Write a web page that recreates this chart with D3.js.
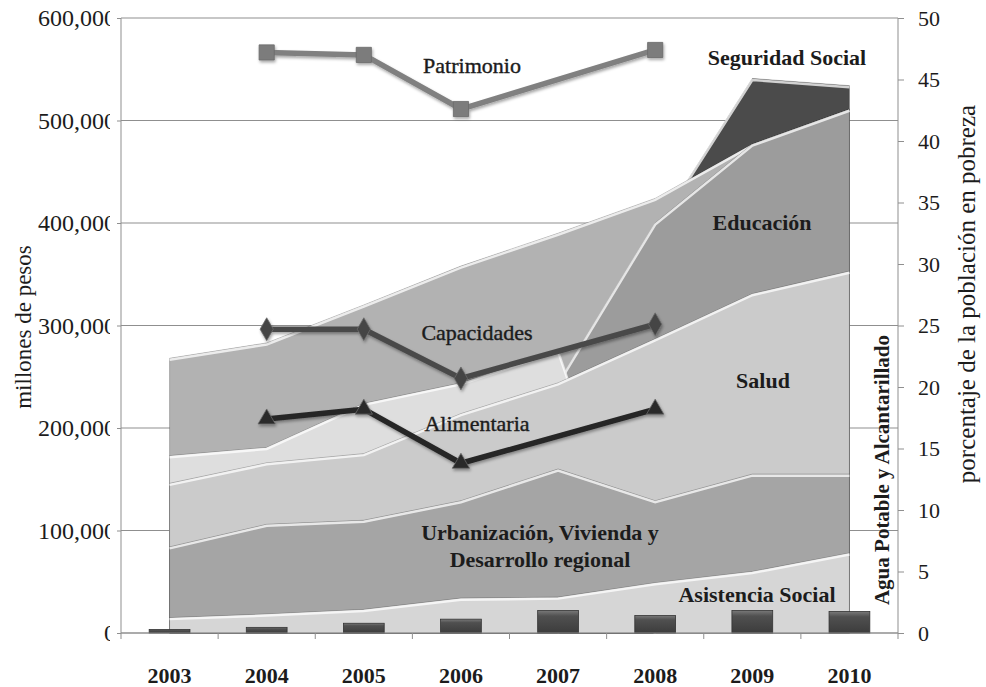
<!DOCTYPE html>
<meta charset="utf-8"/>
<style>
  body { margin: 0; background: #fff; }
  text { font-family: "Liberation Serif", "Times New Roman", serif; fill: #1c1c1c; }
  .grid line { stroke: #8f8f8f; stroke-width: 1; }
  .axis path, .axis line { stroke: #8f8f8f; }
  .axis text { font-size: 24px; }
</style>
<body>
<svg width="986" height="687"></svg>
</body>
<script src="https://d3js.org/d3.v7.min.js"></script>
<script>

  var years = ["2003", "2004", "2005", "2006", "2007", "2008", "2009", "2010"]

  // millones de pesos
  var seguridadSocial = [0, 0, 0, 0, 0, 392000, 541000, 534000]
  var gastoSuperior = [268000, 283000, 320000, 358000, 390000, 424000, 477000, 511000]
  var educacion = [146000, 166000, 175000, 214000, 244000, 400000, 477000, 511000]
  var franjaClara = [173000, 181000, 224000, 244000, 276000, 0, 0, 0]
  var salud = [146000, 166000, 175000, 214000, 244000, 287000, 331000, 353000]
  var urbanizacion = [84000, 106000, 110000, 129000, 160000, 129000, 155000, 155000]
  var asistenciaSocial = [15000, 18500, 23000, 34000, 35000, 49000, 60000, 78000]
  var aguaPotable = [3500, 5500, 9500, 13500, 22000, 17000, 22000, 21000]

  // porcentaje de la población en pobreza (null = sin dato)
  var patrimonio = [null, 47.2, 47.0, 42.6, null, 47.4, null, null]
  var capacidades = [null, 24.7, 24.7, 20.7, null, 25.1, null, null]
  var alimentaria = [null, 17.4, 18.2, 13.8, null, 18.2, null, null]

  var leftTicks = [0, 100000, 200000, 300000, 400000, 500000, 600000]
  var rightTicks = [0, 5, 10, 15, 20, 25, 30, 35, 40, 45, 50]

  var svg = d3.select("svg")
  var pL = 121, pR = 898, pT = 18, pB = 633

  var x = d3.scaleBand().domain(years).range([pL, pR]).padding(0)
  var xc = function (yr) { return x(yr) + x.bandwidth() / 2 }
  var yL = d3.scaleLinear().domain([0, 600000]).range([pB, pT])
  var yR = d3.scaleLinear().domain([0, 50]).range([pB, pT])

  var defs = svg.append("defs")
  defs.append("clipPath").attr("id", "lblclip")
    .append("rect").attr("x", 0).attr("y", -40).attr("width", 110).attr("height", 80)

  var barGrad = defs.append("linearGradient").attr("id", "bargrad")
    .attr("x1", 0).attr("y1", 0).attr("x2", 0).attr("y2", 1)
  barGrad.append("stop").attr("offset", "0").attr("stop-color", "#7a7a7a")
  barGrad.append("stop").attr("offset", "0.25").attr("stop-color", "#505050")
  barGrad.append("stop").attr("offset", "1").attr("stop-color", "#3c3c3c")

  var shadow = defs.append("filter").attr("id", "shadow")
    .attr("x", "-20%").attr("y", "-20%").attr("width", "140%").attr("height", "140%")
  shadow.append("feDropShadow").attr("dx", 1).attr("dy", 2)
    .attr("stdDeviation", 1.5).attr("flood-color", "#000").attr("flood-opacity", 0.35)

  // gridlines
  svg.append("g").attr("class", "grid")
    .selectAll("line").data(leftTicks).enter().append("line")
    .attr("x1", pL).attr("x2", pR)
    .attr("y1", function (d) { return yL(d) }).attr("y2", function (d) { return yL(d) })

  // areas, drawn back to front
  var layers = [
    { values: seguridadSocial, fill: "#4b4b4b" },
    { values: gastoSuperior, fill: "#b2b2b2" },
    { values: educacion, fill: "#9c9c9c" },
    { values: franjaClara, fill: "#dedede" },
    { values: salud, fill: "#cbcbcb" },
    { values: urbanizacion, fill: "#a5a5a5" },
    { values: asistenciaSocial, fill: "#d6d6d6" }
  ]

  var area = d3.area()
    .x(function (d, i) { return xc(years[i]) })
    .y0(yL(0))
    .y1(function (d) { return yL(d) })

  var topLine = d3.line()
    .x(function (d, i) { return xc(years[i]) })
    .y(function (d) { return yL(d) })

  var areas = svg.append("g").attr("class", "areas")
  layers.forEach(function (l) {
    areas.append("path")
      .attr("d", area(l.values))
      .attr("fill", l.fill)
      .attr("stroke", "rgba(0,0,0,0.22)")
      .attr("stroke-width", 1)
    areas.append("path")
      .attr("d", topLine(l.values))
      .attr("fill", "none")
      .attr("stroke", "#ffffff")
      .attr("stroke-opacity", 0.75)
      .attr("stroke-width", 2.5)
      .attr("transform", "translate(0,1.5)")
  })

  // bars: Agua Potable y Alcantarillado
  var bw = x.bandwidth() * 0.42
  svg.append("g").attr("class", "bars")
    .selectAll("rect").data(aguaPotable).enter().append("rect")
    .attr("x", function (d, i) { return xc(years[i]) - bw / 2 })
    .attr("y", function (d) { return yL(d) })
    .attr("width", bw)
    .attr("height", function (d) { return yL(0) - yL(d) })
    .attr("fill", "url(#bargrad)")
    .attr("stroke", "#333")
    .attr("stroke-width", 0.8)

  // axes
  var axL = svg.append("g").attr("class", "axis")
    .attr("transform", "translate(" + pL + ",0)")
    .call(d3.axisLeft(yL).tickValues(leftTicks).tickSize(4).tickPadding(1)
      .tickFormat(d3.format(",")))
  axL.select(".domain").attr("d", "M0," + pT + "V" + pB)
  // labels are cut by the plot frame, as in the source
  axL.selectAll("text")
    .attr("transform", "translate(" + (-pL) + ",0)")
    .attr("x", pL - 5)
    .attr("clip-path", "url(#lblclip)")

  var axR = svg.append("g").attr("class", "axis")
    .attr("transform", "translate(" + pR + ",0)")
    .call(d3.axisRight(yR).tickValues(rightTicks).tickSize(6).tickPadding(14))
  axR.select(".domain").attr("d", "M0," + pT + "V" + pB)
  axR.selectAll("text").style("font-size", "22px")

  var bx = svg.append("g").attr("class", "axis")
  bx.append("line").attr("x1", pL).attr("x2", pR)
    .attr("y1", pB).attr("y2", pB).attr("stroke", "#8f8f8f")
  bx.selectAll("line.tk").data(years.concat(["end"])).enter().append("line")
    .attr("class", "tk")
    .attr("x1", function (d) { return d === "end" ? pR : x(d) })
    .attr("x2", function (d) { return d === "end" ? pR : x(d) })
    .attr("y1", pB).attr("y2", pB + 6)
    .attr("stroke", "#8f8f8f")
  bx.selectAll("text").data(years).enter().append("text")
    .attr("x", function (d) { return xc(d) })
    .attr("y", 683)
    .attr("text-anchor", "middle")
    .style("font-size", "22px")
    .style("font-weight", "bold")
    .text(function (d) { return d })

  // poverty lines
  var lineR = d3.line()
    .x(function (d) { return xc(d.year) })
    .y(function (d) { return yR(d.v) })

  function pts(arr) {
    return arr.map(function (v, i) { return { year: years[i], v: v } })
      .filter(function (d) { return d.v !== null })
  }

  var series = [
    { values: patrimonio, color: "#808080", marker: "square", mfill: "#7c7c7c" },
    { values: capacidades, color: "#4a4a4a", marker: "diamond", mfill: "#444" },
    { values: alimentaria, color: "#262626", marker: "triangle", mfill: "#2a2a2a" }
  ]

  var symbols = {
    square: d3.symbol().type(d3.symbolSquare).size(230),
    diamond: d3.symbol().type(d3.symbolDiamond).size(150),
    triangle: d3.symbol().type(d3.symbolTriangle).size(130)
  }

  series.forEach(function (s) {
    var g = svg.append("g").attr("filter", "url(#shadow)")
    g.append("path")
      .attr("d", lineR(pts(s.values)))
      .attr("fill", "none")
      .attr("stroke", s.color)
      .attr("stroke-width", 5.5)
      .attr("stroke-linejoin", "round")
    g.selectAll("path.m").data(pts(s.values)).enter().append("path")
      .attr("class", "m")
      .attr("d", symbols[s.marker])
      .attr("transform", function (d) {
        return "translate(" + xc(d.year) + "," + yR(d.v) + ")"
      })
      .attr("fill", s.mfill)
      .attr("stroke", "#6a6a6a")
      .attr("stroke-width", 0.8)
  })

  // labels
  var labels = [
    { t: "Patrimonio", x: 472, y: 65, w: "normal" },
    { t: "Seguridad Social", x: 787, y: 57, w: "bold" },
    { t: "Educación", x: 762, y: 222, w: "bold" },
    { t: "Capacidades", x: 477, y: 332, w: "normal" },
    { t: "Alimentaria", x: 477, y: 423, w: "normal" },
    { t: "Salud", x: 763, y: 380, w: "bold" },
    { t: "Urbanización, Vivienda y", x: 540, y: 532, w: "bold" },
    { t: "Desarrollo regional", x: 540, y: 559, w: "bold" },
    { t: "Asistencia Social", x: 757, y: 594, w: "bold" }
  ]
  svg.append("g").selectAll("text").data(labels).enter().append("text")
    .attr("x", function (d) { return d.x })
    .attr("y", function (d) { return d.y })
    .attr("dy", "0.35em")
    .attr("text-anchor", "middle")
    .style("font-size", "22px")
    .style("font-weight", function (d) { return d.w })
    .style("stroke", function (d) { return d.w === "normal" ? "#1c1c1c" : "none" })
    .style("stroke-width", 0.4)
    .text(function (d) { return d.t })

  svg.append("text")
    .attr("transform", "translate(882,470) rotate(-90)")
    .attr("dy", "0.35em")
    .attr("text-anchor", "middle")
    .style("font-size", "21px")
    .style("font-weight", "bold")
    .text("Agua Potable y Alcantarillado")

  svg.append("text")
    .attr("transform", "translate(23,327) rotate(-90)")
    .attr("dy", "0.35em")
    .attr("text-anchor", "middle")
    .style("font-size", "23px")
    .text("millones de pesos")

  svg.append("text")
    .attr("transform", "translate(966,294) rotate(-90)")
    .attr("dy", "0.35em")
    .attr("text-anchor", "middle")
    .style("font-size", "25px")
    .text("porcentaje de la población en pobreza")

</script>
